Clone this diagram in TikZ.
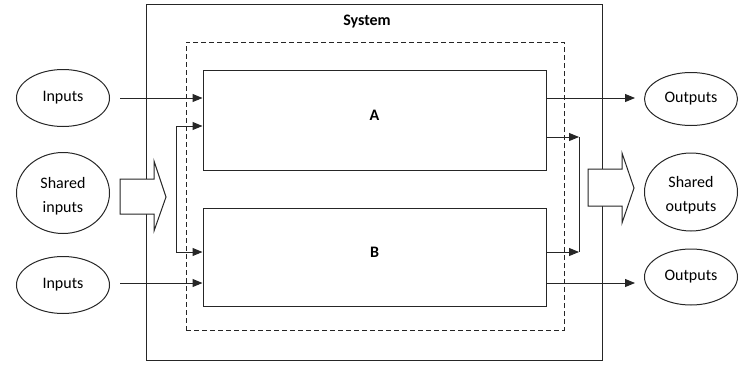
\documentclass[tikz,border=0pt]{standalone}
\usepackage{fontspec}
\setmainfont{Carlito}
\usetikzlibrary{arrows.meta,shapes.geometric}
\begin{document}
\begin{tikzpicture}[x=1pt,y=-1pt,
  every node/.style={font=\fontsize{16}{24}\selectfont},
  ln/.style={draw=black!85,line width=1pt},
  arr/.style={ln,-{Triangle[length=10pt,width=8pt]}},
  oval/.style={ln,ellipse,minimum width=93pt,inner sep=0pt,align=center},
  twoline/.style={label={[align=center,yshift=-3pt]center:#1}},
  block/.style={ln,rectangle,inner sep=0pt,minimum width=343pt,text depth=10pt,
    font=\fontsize{16}{24}\selectfont\bfseries},
  fat/.style={ln,fill=white,line join=miter}
]
\useasboundingbox (0,0) rectangle (749,364);

% outer system boundary and its title
\node[ln,rectangle,minimum width=456pt,minimum height=356pt] (sys) at (374,182) {};
\node[font=\fontsize{16}{24}\selectfont\bfseries] (title) at (367,22) {System};

% dashed grouping frame
\node[draw=black!85,line width=0.9pt,dash pattern=on 5pt off 3pt,rectangle,
      minimum width=378pt,minimum height=288pt] (grp) at (375,186) {};

% the two subsystems
\node[block,minimum height=100pt] (A) at (374.5,120) {A};
\node[block,minimum height=98pt] (B) at (374.5,257) {B};

% external inputs
\node[oval,minimum height=57pt] (in1) at (63,98) {Inputs};
\node[oval,minimum height=81pt,twoline={Shared\\inputs}] (ins) at (63,193) {};
\node[oval,minimum height=57pt] (in2) at (63,285) {Inputs};

% external outputs
\node[oval,minimum height=53pt] (out1) at (691,99) {Outputs};
\node[oval,minimum height=78pt,twoline={Shared\\outputs}] (outs) at (691,192) {};
\node[oval,minimum height=56pt] (out2) at (691,277) {Outputs};

% plain input and output flows
\draw[arr] ([xshift=10pt]in1.east) -- (A.west |- in1.east);
\draw[arr] ([xshift=10pt]in2.east |- 0,283) -- (B.west |- 0,283);
\draw[arr] (A.east |- 0,98) -- ([xshift=-9pt]out1.west |- 0,98);
\draw[arr] (B.east |- 0,283) -- ([xshift=-9pt]out2.west |- 0,283);

% shared input distribution
\coordinate (jl1) at (176,126);
\coordinate (jl2) at (176,252);
\draw[ln] (jl1) -- (jl2);
\draw[arr] (jl1) -- (A.west |- jl1);
\draw[arr] (jl2) -- (B.west |- jl2);

% shared output collection
\coordinate (jr1) at (579,137);
\coordinate (jr2) at (579,252);
\draw[ln] (jr1) -- (jr2);
\draw[arr] (A.east |- jr1) -- (jr1);
\draw[arr] (B.east |- jr2) -- (jr2);

% block arrows for the shared flows
\draw[fat] (120,179) -- (154,179) -- (154,161) -- (166,197) -- (154,231)
  -- (154,214) -- (120,214) -- cycle;
\draw[fat] (588,169) -- (622,169) -- (622,153) -- (634,188) -- (622,223)
  -- (622,206) -- (588,206) -- cycle;
\end{tikzpicture}
\end{document}
